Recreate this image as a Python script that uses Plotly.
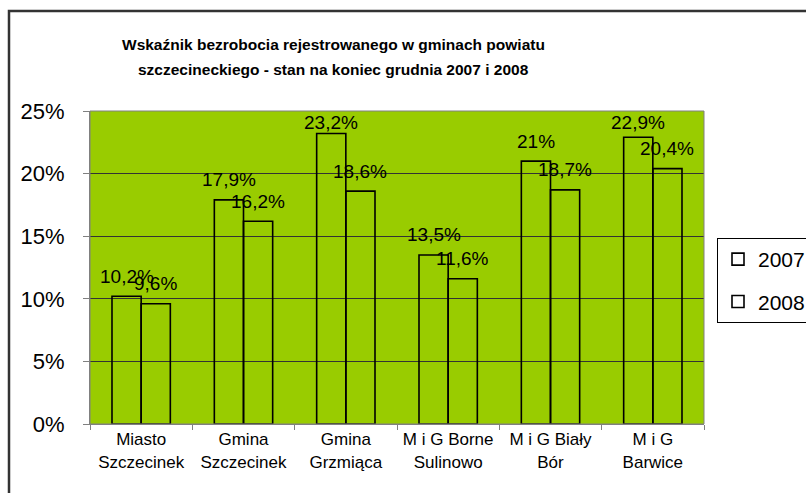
import plotly.graph_objects as go

categories = ["Miasto<br>Szczecinek", "Gmina<br>Szczecinek", "Gmina<br>Grzmiąca",
              "M i G Borne<br>Sulinowo", "M i G Biały<br>Bór", "M i G<br>Barwice"]
v2007 = [10.2, 17.9, 23.2, 13.5, 21.0, 22.9]
v2008 = [9.6, 16.2, 18.6, 11.6, 18.7, 20.4]
lab2007 = ["10,2%", "17,9%", "23,2%", "13,5%", "21%", "22,9%"]
lab2008 = ["9,6%", "16,2%", "18,6%", "11,6%", "18,7%", "20,4%"]
tick_vals = [0, 5, 10, 15, 20, 25]
tick_text = ["0%", "5%", "10%", "15%", "20%", "25%"]
title_lines = ["Wskaźnik bezrobocia rejestrowanego w gminach powiatu",
               "szczecineckiego - stan na koniec grudnia 2007 i 2008"]

GREEN = "#99CC00"
FONT = "Liberation Sans, Arial, sans-serif"

fig = go.Figure()
fig.add_trace(go.Bar(name="2007", x=categories, y=v2007, legendgroup="a",
                     marker=dict(color="rgba(0,0,0,0)", line=dict(color="black", width=1.6))))
fig.add_trace(go.Bar(name="2008", x=categories, y=v2008, legendgroup="b",
                     marker=dict(color="rgba(0,0,0,0)", line=dict(color="black", width=1.6))))

L, R, T, B = 90, 102, 111, 69
W, H = 806, 493
pw = W - L - R
ph = H - T - B
bargap = 0.43
cat_px = pw / len(categories)
bar_px = cat_px * (1 - bargap) / 2
px_per_unit = ph / 25.0

annotations = []
for vals, labs, sgn in ((v2007, lab2007, -1), (v2008, lab2008, 1)):
    for c, v, t in zip(categories, vals, labs):
        ly = min(v + 20 / px_per_unit, 24.1)
        annotations.append(dict(x=c, y=ly, xref="x", yref="y", text=t, showarrow=False,
                                xshift=sgn * bar_px / 2, yanchor="middle", xanchor="center",
                                font=dict(size=19, color="black", family=FONT)))

title_cx = (333 - L) / pw
for i, line in enumerate(title_lines):
    py = 45 + i * 25
    annotations.append(dict(x=title_cx, y=(H - B - py) / ph, xref="paper", yref="paper",
                            text="<b>" + line + "</b>", showarrow=False,
                            xanchor="center", yanchor="middle",
                            font=dict(size=15.5, color="black", family=FONT)))

fig.update_layout(
    width=W, height=H,
    margin=dict(l=L, r=R, t=T, b=B, autoexpand=False),
    paper_bgcolor="white",
    plot_bgcolor=GREEN,
    barmode="group",
    bargap=bargap,
    bargroupgap=0,
    font=dict(family=FONT, color="black"),
    showlegend=True,
    legend=dict(x=(717 - L) / pw, y=(H - B - 238) / ph, xanchor="left", yanchor="top",
                bgcolor="white", bordercolor="black", borderwidth=1,
                font=dict(size=21, family=FONT), tracegroupgap=12,
                traceorder="grouped"),
    annotations=annotations,
    shapes=[dict(type="rect", xref="paper", yref="paper",
                 x0=(9 - L) / pw, x1=(W + 20 - L) / pw,
                 y0=(H - B - (H + 20)) / ph, y1=(H - B - 11) / ph,
                 line=dict(color="#333333", width=2.5), layer="below")],
)
fig.update_xaxes(showgrid=False, showline=True, linecolor="#808080", linewidth=1,
                 ticks="outside", ticklen=5, tickcolor="#808080", tickson="boundaries",
                 tickfont=dict(size=17, family=FONT), mirror=False)
fig.update_yaxes(range=[0, 25], tickvals=tick_vals, ticktext=tick_text,
                 showgrid=True, gridcolor="#333333", gridwidth=1,
                 showline=True, linecolor="#808080", linewidth=1,
                 ticks="outside", ticklen=6, tickcolor="#808080",
                 ticklabelstandoff=14, tickfont=dict(size=22, family=FONT), zeroline=False)
fig.add_shape(type="rect", xref="paper", yref="paper", x0=0, x1=1, y0=0, y1=1,
              line=dict(color="#808080", width=1), layer="above")

fig.write_html("out.html", config={"displayModeBar": False},
               post_script="document.body.style.margin='0';document.body.style.overflow='hidden';")
